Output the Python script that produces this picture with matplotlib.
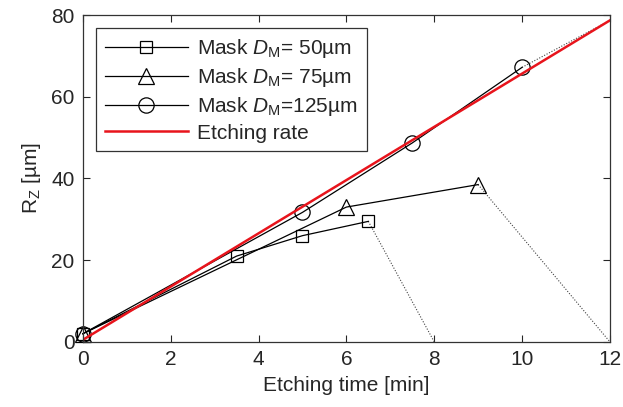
import matplotlib
matplotlib.use("Agg")
import matplotlib.pyplot as plt

plt.rcParams['font.family'] = ['Liberation Sans', 'DejaVu Sans']
plt.rcParams['mathtext.fontset'] = 'custom'
plt.rcParams['mathtext.rm'] = 'Liberation Sans'
plt.rcParams['mathtext.it'] = 'Liberation Sans:italic'
plt.rcParams['font.size'] = 15

# data
t50 = [0, 3.5, 5, 6.5]
r50 = [2, 21, 26, 29.5]
t50_end = [6.5, 8]
r50_end = [29.5, 0]

t75 = [0, 6, 9]
r75 = [2, 33, 38.5]
t75_end = [9, 12]
r75_end = [38.5, 0]

t125 = [0, 5, 7.5, 10]
r125 = [2, 31.7, 48.7, 67.2]
t125_end = [10, 12]
r125_end = [67.2, 78.7]

t_rate = [0, 12]
r_rate = [0.5, 78.7]

fig = plt.figure(figsize=(6.23, 4.07), dpi=100)
ax = fig.add_axes([0.133, 0.16, 0.846, 0.803])

ink = '#262626'
dot = dict(color='#444444', lw=0.8, ls=(0, (1, 1.5)))
ax.plot(t50_end, r50_end, **dot)
ax.plot(t75_end, r75_end, **dot)
ax.plot(t125_end, r125_end, **dot)

ax.plot(t50, r50, color='k', lw=0.9, marker='s', ms=9, mfc='none', mec='k',
        mew=0.9, label='Mask $D_\\mathrm{M}$= 50µm', clip_on=False)
ax.plot(t75, r75, color='k', lw=0.9, marker='^', ms=12, mfc='none', mec='k',
        mew=0.9, label='Mask $D_\\mathrm{M}$= 75µm', clip_on=False)
ax.plot(t125, r125, color='k', lw=0.9, marker='o', ms=11, mfc='none', mec='k',
        mew=0.9, label='Mask $D_\\mathrm{M}$=125µm', clip_on=False)
ax.plot(t_rate, r_rate, color='#e8141c', lw=1.8, label='Etching rate')

ax.set_xlim(0, 12)
ax.set_ylim(0, 80)
ax.set_xticks([0, 2, 4, 6, 8, 10, 12])
ax.set_yticks([0, 20, 40, 60, 80])
ax.tick_params(direction='in', top=True, right=True, length=5, width=0.8,
               colors=ink, labelsize=15, pad=6)
for s in ax.spines.values():
    s.set_color('#333333')
    s.set_linewidth(0.9)

ax.set_xlabel('Etching time [min]', color=ink, labelpad=5)
ax.set_ylabel('R$_\\mathrm{Z}$ [µm]', color=ink, labelpad=6)

leg = ax.legend(loc='upper left', bbox_to_anchor=(0.017, 0.972), handlelength=4.0,
                handletextpad=0.45, borderpad=0.42, labelspacing=0.28,
                fancybox=False, framealpha=1, edgecolor='#333333',
                borderaxespad=0.2)
leg.get_frame().set_linewidth(0.9)
for t in leg.get_texts():
    t.set_color(ink)

fig.savefig('out.png', dpi=100)
